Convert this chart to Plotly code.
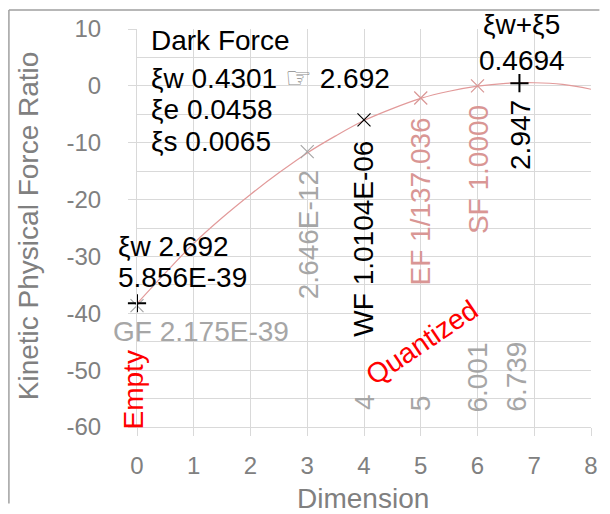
import numpy as np
import plotly.graph_objects as go

# ---- data ----
# force ratios per dimension; plotted as log10 values
dims = [0, 0, 3, 4, 5, 6, 6.739]
force_ratios = [2.175e-39, 5.856e-39, 2.646e-12, 1.0104e-06, 1 / 137.036, 1.0, 2.947]
marker_symbols = ["x-thin", "cross-thin", "x-thin", "x-thin", "x-thin", "x-thin", "cross-thin"]
marker_colors = ["#A6A6A6", "#000000", "#A6A6A6", "#000000", "#D99694", "#D99694", "#000000"]

# fitted trend curve (dimension vs log ratio)
curve_x = [0, 0.5, 1, 1.5, 2, 2.5, 3, 3.5, 4, 4.5, 5, 5.5, 6, 6.5, 7, 7.5, 8]
curve_y = [-38.3, -32.9, -27.7, -23.2, -19.1, -15.3, -11.8, -8.8, -6.1, -4.0,
           -2.2, -0.95, -0.05, 0.45, 0.55, 0.25, -0.6]

x_ticks = [0, 1, 2, 3, 4, 5, 6, 7, 8]
y_ticks = [10, 0, -10, -20, -30, -40, -50, -60]

log_y = [float(np.log10(v)) for v in force_ratios]

FONT = "Liberation Sans, Arial, sans-serif"
GRAY = "#A6A6A6"
AXGRAY = "#808080"
PINK = "#D99694"
GRID = "#D9D9D9"
PX_PER_X = 459 / 8

fig = go.Figure()

fig.add_trace(go.Scatter(
    x=curve_x, y=curve_y, mode="lines", line=dict(color="#E29A9A", width=1.2, shape="spline"),
    hoverinfo="skip", showlegend=False))

for xv, yv, sym, col in zip(dims, log_y, marker_symbols, marker_colors):
    lw = 2 if sym == "cross-thin" else 1.2
    fig.add_trace(go.Scatter(
        x=[xv], y=[yv], mode="markers", cliponaxis=False, showlegend=False,
        marker=dict(symbol=sym, size=13, line=dict(color=col, width=lw), color=col)))

ann = []


def txt(x, y, s, color="#000000", size=28, angle=0, xanchor="center", yanchor="middle",
        dx=0.0, dy=0.0):
    # dx/dy: pixel shifts so labels can sit just outside the axis ranges
    ann.append(dict(x=x, y=y, xref="x", yref="y", text=s, showarrow=False, textangle=angle,
                    xanchor=xanchor, yanchor=yanchor, xshift=dx, yshift=dy,
                    font=dict(family=FONT, size=size, color=color)))


# legend-like block
txt(0.21, 7.9, "Dark Force", xanchor="left")
txt(0.21, 1.5, "ξw 0.4301 <span style='font-size:30px;color:#8C8C8C'>☞</span> 2.692", xanchor="left")
txt(0.21, -4.2, "ξe 0.0458", xanchor="left")
txt(0.21, -9.7, "ξs 0.0065", xanchor="left")

# point labels
txt(0, -28.2, "ξw 2.692", xanchor="left", dx=-0.36 * PX_PER_X)
txt(0, -33.7, "5.856E-39", xanchor="left", dx=-0.36 * PX_PER_X)
txt(1.12, -43.2, "GF 2.175E-39", color=GRAY)
txt(3.02, -26.2, "2.646E-12", color=GRAY, angle=-90)
txt(3.99, -26.8, "WF 1.0104E-06", angle=-90)
txt(4.99, -20.3, "EF 1/137.036", color=PINK, angle=-90)
txt(6.01, -14.8, "SF 1.0000", color=PINK, angle=-90)
txt(6.77, -8.6, "2.947", angle=-90)
txt(6.78, 10, "ξw+ξ5", dy=5)
txt(6.78, 4.4, "0.4694")

# dimension labels along the bottom
txt(4.01, -55.7, "4", color=GRAY, angle=-90)
txt(4.99, -55.8, "5", color=GRAY, angle=-90)
txt(6.0, -51.4, "6.001", color=GRAY, angle=-90)
txt(6.69, -51.2, "6.739", color=GRAY, angle=-90)

# region labels
txt(0, -53.4, "Empty", color="#FF0000", angle=-90, dx=-0.07 * PX_PER_X)
txt(5.02, -45.1, "Quantized", color="#FF0000", angle=-34)

# axis titles
ann.append(dict(x=(365 - 137) / 459, y=(427 - 499) / 398, xref="paper", yref="paper",
                text="Dimension", showarrow=False, xanchor="center", yanchor="middle",
                font=dict(family=FONT, size=28, color=AXGRAY)))
ann.append(dict(x=(27 - 137) / 459, y=(427 - 226) / 398, xref="paper", yref="paper",
                text="Kinetic Physical Force Ratio", showarrow=False, textangle=-90,
                xanchor="center", yanchor="middle",
                font=dict(family=FONT, size=28, color=AXGRAY)))

# chart-area frame (top and left edges), drawn as headless arrow lines from the corner;
# both stop short of the page edges
corner_x, corner_y = (7.5 - 137) / 459, (427 - 10) / 398
for ax_px, ay_px in [(0, 495), (592, 0)]:
    ann.append(dict(x=corner_x, y=corner_y, xref="paper", yref="paper", text="",
                    showarrow=True, arrowhead=0, arrowwidth=1.5, arrowcolor="#A0A0A0",
                    ax=ax_px, ay=ay_px, standoff=0, startstandoff=0))

fig.update_layout(
    width=610, height=514,
    margin=dict(l=137, r=14, t=29, b=87),
    paper_bgcolor="white", plot_bgcolor="white",
    annotations=ann,
)

fig.update_xaxes(
    range=[0, 8], tickvals=x_ticks, ticktext=[str(v) for v in x_ticks],
    showgrid=True, gridcolor=GRID, gridwidth=1, zeroline=False,
    showline=True, linecolor=GRID, linewidth=1,
    ticks="outside", ticklen=8, tickcolor=GRID, ticklabelstandoff=9,
    tickfont=dict(family=FONT, size=24, color=AXGRAY))

fig.update_yaxes(
    range=[-60, 10], tickvals=y_ticks, ticktext=[str(v) for v in y_ticks],
    showgrid=True, gridcolor=GRID, gridwidth=1, zeroline=False,
    showline=True, linecolor=GRID, linewidth=1,
    ticks="outside", ticklen=8, tickcolor=GRID, ticklabelstandoff=22,
    minor=dict(dtick=5, showgrid=True, gridcolor=GRID, gridwidth=1),
    tickfont=dict(family=FONT, size=24, color=AXGRAY))

fig.write_html("out.html")
